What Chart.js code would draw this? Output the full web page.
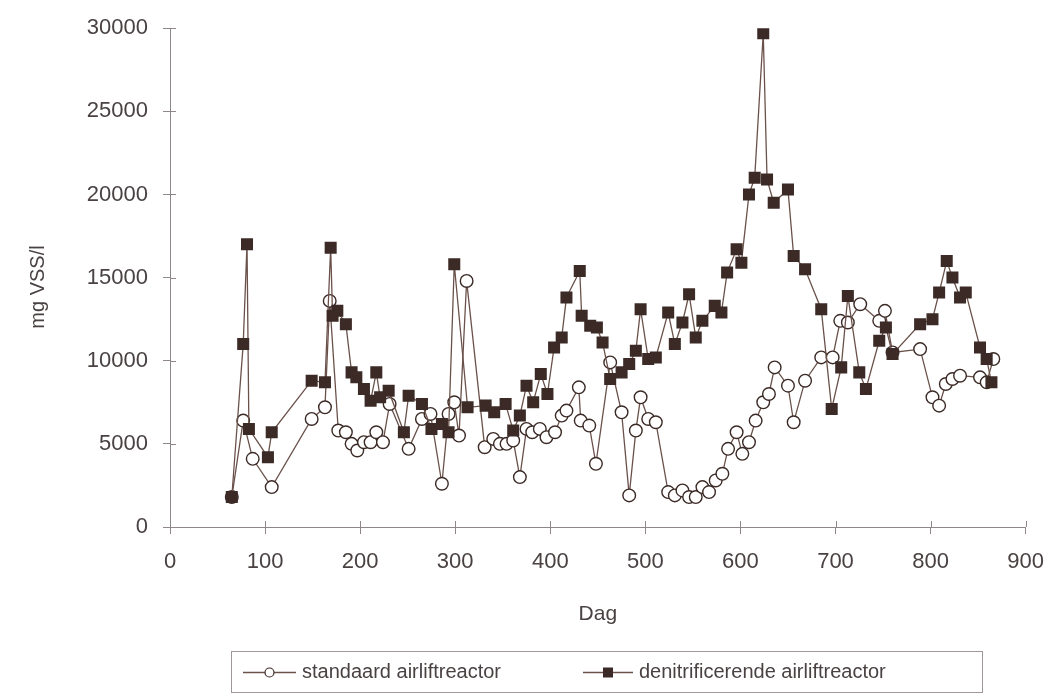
<!DOCTYPE html>
<html>
<head>
<meta charset="utf-8">
<title>mg VSS/l per dag</title>
<script src="https://cdn.jsdelivr.net/npm/chart.js@4/dist/chart.umd.min.js"></script>
<style>
  html, body { margin: 0; padding: 0; background: #ffffff; }
  #wrap { width: 1059px; height: 696px; position: relative; }
</style>
</head>
<body>
<div id="wrap"><canvas id="c" width="1059" height="696"></canvas></div>
<script>
// Standaard airliftreactor: dag en mg VSS/l
const dayStandard = [65, 77, 87, 107, 149, 163, 168, 177, 185, 191, 197, 204, 211, 217, 224, 231,
  251, 265, 274, 286, 293, 299, 304, 312, 331, 340, 347, 354, 361, 368, 375, 381, 389, 396,
  405, 412, 417, 430, 432, 441, 448, 463, 475, 483, 490, 495, 503, 511, 524, 531, 539, 546,
  553, 560, 567, 574, 581, 587, 596, 602, 609, 616, 624, 630, 636, 650, 656, 668, 685, 697,
  705, 713, 726, 746, 752, 760, 789, 802, 809, 816, 823, 831, 852, 859, 866];
const vssStandard = [1800, 6400, 4100, 2400, 6500, 7200, 13600, 5800, 5700, 5000, 4600, 5100, 5100, 5700, 5100, 7400,
  4700, 6500, 6800, 2600, 6800, 7500, 5500, 14800, 4800, 5300, 5000, 5000, 5200, 3000, 5900, 5700, 5900, 5400,
  5700, 6700, 7000, 8400, 6400, 6100, 3800, 9900, 6900, 1900, 5800, 7800, 6500, 6300, 2100, 1900, 2200, 1800,
  1800, 2400, 2100, 2800, 3200, 4700, 5700, 4400, 5100, 6400, 7500, 8000, 9600, 8500, 6300, 8800, 10200, 10200,
  12400, 12300, 13400, 12400, 13000, 10500, 10700, 7800, 7300, 8600, 8900, 9100, 9000, 8700, 10100];

// Denitrificerende airliftreactor: dag en mg VSS/l
const dayDenit = [65, 77, 81, 83, 103, 107, 149, 163, 169, 171, 176, 185, 191, 196, 204, 211, 217, 221, 230,
  246, 251, 265, 275, 286, 293, 299, 313, 332, 341, 353, 361, 368, 375, 382, 390, 397, 404, 412, 417,
  431, 433, 442, 449, 455, 463, 475, 483, 490, 495, 503, 511, 524, 531, 539, 546, 553, 560, 573, 580,
  586, 596, 601, 609, 615, 624, 628, 635, 650, 656, 668, 685, 696, 706, 713, 725, 732, 746, 753, 760,
  789, 802, 809, 817, 823, 831, 837, 852, 859, 864];
const vssDenit = [1800, 11000, 17000, 5900, 4200, 5700, 8800, 8700, 16800, 12700, 13000, 12200, 9300, 9000, 8300, 7600, 9300, 7800, 8200,
  5700, 7900, 7400, 5900, 6200, 5700, 15800, 7200, 7300, 6900, 7400, 5800, 6700, 8500, 7500, 9200, 8000, 10800, 11400, 13800,
  15400, 12700, 12100, 12000, 11100, 8900, 9300, 9800, 10600, 13100, 10100, 10200, 12900, 11000, 12300, 14000, 11400, 12400, 13300, 12900,
  15300, 16700, 15900, 20000, 21000, 29700, 20900, 19500, 20300, 16300, 15500, 13100, 7100, 9600, 13900, 9300, 8300, 11200, 12000, 10400,
  12200, 12500, 14100, 16000, 15000, 13800, 14100, 10800, 10100, 8700];

const seriesLabels = ['standaard airliftreactor', 'denitrificerende airliftreactor'];
const xTitle = 'Dag';
const yTitle = 'mg VSS/l';

const toPoints = (xs, ys) => xs.map((x, i) => ({ x: x, y: ys[i] }));

const INK = '#3b2a26';
const LINE = '#6a514a';
const TEXT = '#4a4242';
const AXIS = '#8f8787';
const FONT = "'Liberation Sans', Arial, sans-serif";

// short tick marks on the inner side of both axes
const innerTicks = {
  id: 'innerTicks',
  afterDatasetsDraw(chart) {
    const { ctx, scales } = chart;
    ctx.save();
    ctx.strokeStyle = AXIS;
    ctx.lineWidth = 1;
    const xs = scales.x, ys = scales.y;
    xs.ticks.forEach(t => {
      const px = Math.round(xs.getPixelForValue(t.value)) + 0.5;
      ctx.beginPath(); ctx.moveTo(px, xs.top); ctx.lineTo(px, xs.top - 6); ctx.stroke();
    });
    ys.ticks.forEach(t => {
      const py = Math.round(ys.getPixelForValue(t.value)) + 0.5;
      ctx.beginPath(); ctx.moveTo(ys.right, py); ctx.lineTo(ys.right + 6, py); ctx.stroke();
    });
    ctx.restore();
  }
};

// rotated y-axis caption, slightly below the axis midpoint
const yCaption = {
  id: 'yCaption',
  afterDraw(chart) {
    const { ctx } = chart;
    ctx.save();
    ctx.translate(38, 287);
    ctx.rotate(-Math.PI / 2);
    ctx.font = '20px ' + FONT;
    ctx.fillStyle = TEXT;
    ctx.textAlign = 'center';
    ctx.textBaseline = 'middle';
    ctx.fillText(yTitle, 0, 0);
    ctx.restore();
  }
};

// framed legend with line + marker symbols
const boxedLegend = {
  id: 'boxedLegend',
  afterDraw(chart) {
    const { ctx } = chart;
    const ds = chart.data.datasets;
    const box = { left: 231, right: 982, top: 651, bottom: 692 };
    const cy = (box.top + box.bottom) / 2 + 1;
    ctx.save();
    ctx.strokeStyle = '#a09898';
    ctx.lineWidth = 1;
    ctx.strokeRect(box.left + 0.5, box.top + 0.5, box.right - box.left, box.bottom - box.top);
    ctx.font = '20px ' + FONT;
    ctx.fillStyle = TEXT;
    ctx.textBaseline = 'middle';
    const items = [{ x: 243, text: 302 }, { x: 583, text: 639 }];
    items.forEach((it, i) => {
      const d = ds[i];
      ctx.strokeStyle = LINE;
      ctx.lineWidth = 1.4;
      ctx.beginPath(); ctx.moveTo(it.x, cy); ctx.lineTo(it.text - 6, cy); ctx.stroke();
      const mx = (it.x + it.text - 6) / 2;
      if (d.pointStyle === 'rect') {
        ctx.fillStyle = INK;
        ctx.fillRect(mx - 5, cy - 5, 10, 10);
      } else {
        ctx.fillStyle = '#ffffff';
        ctx.strokeStyle = INK;
        ctx.lineWidth = 1.2;
        ctx.beginPath(); ctx.arc(mx, cy, 4.5, 0, Math.PI * 2); ctx.fill(); ctx.stroke();
      }
      ctx.fillStyle = TEXT;
      ctx.fillText(d.label, it.text, cy);
    });
    ctx.restore();
  }
};

new Chart(document.getElementById('c'), {
  type: 'line',
  data: {
    datasets: [
      {
        label: seriesLabels[0],
        data: toPoints(dayStandard, vssStandard),
        order: 1,
        borderColor: LINE,
        borderWidth: 1.3,
        pointStyle: 'circle',
        pointRadius: 6.3,
        pointBorderWidth: 1.4,
        pointBackgroundColor: '#ffffff',
        pointBorderColor: INK,
        tension: 0,
        fill: false
      },
      {
        label: seriesLabels[1],
        data: toPoints(dayDenit, vssDenit),
        order: 0,
        borderColor: LINE,
        borderWidth: 1.3,
        pointStyle: 'rect',
        pointRadius: 8.5,
        pointBorderWidth: 0,
        pointBackgroundColor: INK,
        pointBorderColor: INK,
        tension: 0,
        fill: false
      }
    ]
  },
  options: {
    responsive: false,
    animation: false,
    layout: { padding: { top: 24, right: 19, bottom: 0, left: 0 } },
    plugins: {
      legend: { display: false },
      tooltip: { enabled: false },
      title: { display: false }
    },
    scales: {
      x: {
        type: 'linear',
        min: 0, max: 900,
        afterFit(scale) { scale.height = 169; },
        border: { display: true, color: AXIS, width: 1 },
        grid: { display: true, drawOnChartArea: false, color: AXIS, tickLength: 7 },
        ticks: { stepSize: 100, color: TEXT, padding: 15, font: { family: FONT, size: 22 },
                 callback: v => String(v) },
        title: { display: true, text: xTitle, color: TEXT, font: { family: FONT, size: 21 }, padding: { top: 0, bottom: 69 } }
      },
      y: {
        min: 0, max: 30000,
        afterFit(scale) { scale.width = 170; },
        border: { display: true, color: AXIS, width: 1 },
        grid: { display: true, drawOnChartArea: false, color: AXIS, tickLength: 7 },
        ticks: { stepSize: 5000, color: TEXT, padding: 15, font: { family: FONT, size: 22 },
                 callback: v => String(v) },
        title: { display: false }
      }
    }
  },
  plugins: [innerTicks, yCaption, boxedLegend]
});
</script>
</body>
</html>
